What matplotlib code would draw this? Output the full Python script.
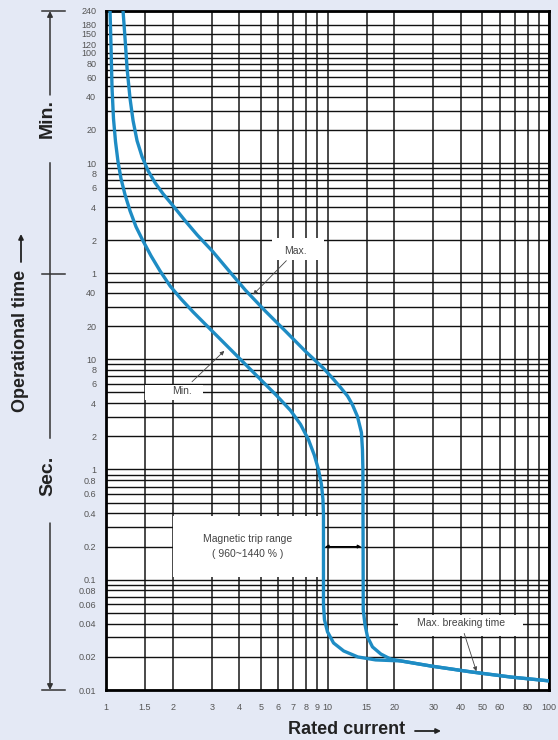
#!/usr/bin/env python3

import numpy as np
import matplotlib
matplotlib.use("Agg")
from matplotlib import pyplot as plt
from matplotlib.lines import Line2D
from matplotlib.patches import Rectangle, FancyArrowPatch


# tripping curves: multiple of rated current vs operational time (s)
min_current = [1.043, 1.054, 1.065, 1.081, 1.104, 1.133, 1.169, 1.219, 1.284, 1.367,
               1.470, 1.598, 1.755, 1.948, 2.185, 2.475, 2.834, 3.281, 4.04, 4.872,
               5.877, 6.80, 7.55, 8.20, 8.73, 9.10, 9.39, 9.54, 9.59, 9.59,
               9.69, 10.0, 10.65, 11.83, 13.7, 16.5, 21.43, 29.3, 44.4, 67.4, 100]
min_time = [14400, 6577, 2848, 1520, 939, 618, 433, 310, 221.6, 158.5,
            118.2, 86.4, 63.1, 46.1, 35.1, 26.8, 20.4, 15.2, 10.0, 6.86,
            4.71, 3.44, 2.57, 1.87, 1.34, 1.0, 0.73, 0.534, 0.39, 0.0593,
            0.0433, 0.0337, 0.0267, 0.0226, 0.01995, 0.01874, 0.01835, 0.0165,
            0.0146, 0.0131, 0.0121]

max_current = [1.194, 1.219, 1.245, 1.284, 1.325, 1.381, 1.455, 1.549, 1.666, 1.811,
               2.01, 2.278, 2.581, 3.017, 3.565, 4.256, 5.243, 6.457, 7.951, 9.592,
               10.65, 11.45, 12.32, 12.95, 13.65, 14.23, 14.38, 14.45, 14.5,
               14.77, 15.16, 15.96, 17.41, 19.25, 21.43, 29.3, 44.4, 67.4, 100]
max_time = [14400, 8110, 4330, 2310, 1458, 959, 686, 512, 398, 316,
            246, 180, 134, 95.9, 64.4, 42.4, 27.3, 18.0, 11.8, 8.28,
            6.57, 5.55, 4.63, 3.88, 3.03, 2.16, 1.52, 1.0, 0.0534,
            0.039, 0.0303, 0.0246, 0.0212, 0.0191, 0.01835, 0.0165,
            0.0146, 0.0131, 0.0121]

# axis ticks
x_labeled = [1, 1.5, 2, 3, 4, 5, 6, 7, 8, 9, 10, 15, 20, 30, 40, 50, 60, 80, 100]
x_extra = [70, 90]

min_labels = [240, 180, 150, 120, 100, 80, 60, 40, 20, 10, 8, 6, 4, 2, 1]
min_extra = [90, 70, 50, 30, 9, 7, 5, 3]
sec_labels = ["40", "20", "10", "8", "6", "4", "2", "1", "0.8", "0.6", "0.4", "0.2",
              "0.1", "0.08", "0.06", "0.04", "0.02", "0.01"]
sec_extra = [50, 30, 9, 7, 5, 3, 0.9, 0.7, 0.5, 0.3, 0.09, 0.07, 0.05, 0.03]

W, H = 558, 740
bg = "#e4e9f5"
curve_col = "#1e8cc4"
txt_col = "#444444"

plt.rcParams["font.family"] = ["Liberation Sans", "DejaVu Sans"]

fig = plt.figure(figsize=(W / 100, H / 100), dpi=100, facecolor=bg)
ax = fig.add_axes([106 / W, 1 - 690 / H, (549 - 106) / W, (690 - 11) / H])
ax.set_facecolor("white")
ax.set_xscale("log")
ax.set_yscale("log")
ax.set_xlim(1, 100)
ax.set_ylim(0.01, 14400)

ax.set_xticks(x_labeled, [f"{v:g}" for v in x_labeled])
ax.set_xticks(x_extra, minor=True)
ax.set_xticklabels([], minor=True)

y_major = [m * 60 for m in min_labels] + [float(s) for s in sec_labels]
y_text = [str(m) for m in min_labels] + sec_labels
ax.set_yticks(y_major, y_text)
ax.set_yticks([m * 60 for m in min_extra] + sec_extra, minor=True)
ax.set_yticklabels([], minor=True)

ax.tick_params(which="both", length=0, labelsize=6.5, labelcolor="#555555")
ax.tick_params(axis="y", pad=7)
ax.tick_params(axis="x", pad=9)
ax.set_axisbelow(True)
ax.xaxis.grid(True, which="both", color="#2a2a2a", lw=1.2)
ax.yaxis.grid(True, which="both", color="#111111", lw=1.0)
for sp in ax.spines.values():
    sp.set_linewidth(2)
    sp.set_color("black")

ax.plot(min_current, min_time, color=curve_col, lw=2.4, zorder=4,
        solid_joinstyle="round", solid_capstyle="butt")
ax.plot(max_current, max_time, color=curve_col, lw=2.4, zorder=4,
        solid_joinstyle="round", solid_capstyle="butt")

# white label boxes that hide the grid
for (x0, x1, y0, y1) in [(2.0, 9.45, 0.105, 0.38),
                         (1.5, 2.75, 4.3, 5.8),
                         (5.6, 9.6, 80, 125),
                         (20.8, 76, 0.031, 0.048)]:
    ax.add_patch(Rectangle((x0, y0), x1 - x0, y1 - y0, facecolor="white",
                           edgecolor="none", zorder=3))

tkw = dict(color=txt_col, fontsize=7.5, ha="center", va="center", zorder=5)
akw = dict(arrowstyle="-|>", color=txt_col, lw=0.6, mutation_scale=6,
           shrinkA=2, shrinkB=0)
ax.text(4.36, 0.2, "Magnetic trip range\n( 960~1440 % )", linespacing=1.7, **tkw)
ax.annotate("", xy=(9.75, 0.2), xytext=(14.2, 0.2), zorder=5,
            arrowprops=dict(arrowstyle="<|-|>", color="black", lw=0.8,
                            mutation_scale=5, shrinkA=0, shrinkB=0))
ax.annotate("Max.", xy=(4.62, 38.6), xytext=(7.2, 96), arrowprops=akw, **tkw)
ax.annotate("Min.", xy=(3.42, 11.9), xytext=(2.2, 5.1), arrowprops=akw, **tkw)
ax.annotate("Max. breaking time", xy=(47, 0.0148), xytext=(40, 0.0405),
            arrowprops=akw, **tkw)


# left side: time scale markers, in figure pixels
def fp(x, y):
    return (x / W, 1 - y / H)


def seg(x0, y0, x1, y1):
    p, q = fp(x0, y0), fp(x1, y1)
    fig.add_artist(Line2D([p[0], q[0]], [p[1], q[1]], transform=fig.transFigure,
                          color="#333333", lw=1.1))


def arrow(x0, y0, x1, y1, col="#333333", lw=1.1, ms=8):
    fig.add_artist(FancyArrowPatch(fp(x0, y0), fp(x1, y1), transform=fig.transFigure,
                                   arrowstyle="-|>", mutation_scale=ms, color=col,
                                   lw=lw, shrinkA=0, shrinkB=0))


seg(42, 11, 65, 11)
arrow(50, 95, 50, 11)
seg(50, 163, 50, 438)
seg(42, 274, 65, 274)
arrow(50, 523, 50, 690)
seg(42, 690, 65, 690)

bkw = dict(fontsize=13, fontweight="bold", color="#222222", ha="center", va="center")
fig.text(*fp(47, 119), "Min.", rotation=90, **dict(bkw, fontsize=14))
fig.text(*fp(48, 476), "Sec.", rotation=90, **dict(bkw, fontsize=14))
fig.text(*fp(21, 341), "Operational time", rotation=90, **bkw)
arrow(21, 262, 21, 234, col="#222222", lw=1.3, ms=7)
fig.text(*fp(347, 729), "Rated current", **bkw)
arrow(415, 731, 441, 731, col="#222222", lw=1.3, ms=7)

fig.savefig("out.png", dpi=100, facecolor=bg)
